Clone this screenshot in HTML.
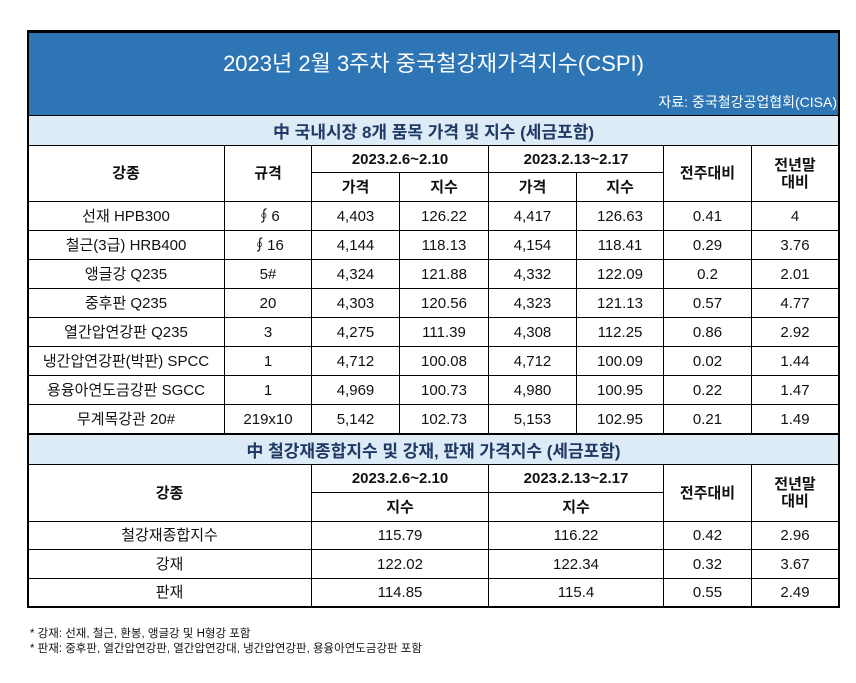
<!DOCTYPE html>
<html><head><meta charset="utf-8"><style>
body{margin:0;width:856px;height:683px;background:#fff;position:relative;overflow:hidden;font-family:"Liberation Sans","Noto Sans CJK KR","NanumGothic",sans-serif;color:#111}
.c{position:absolute;box-sizing:border-box;border-right:1px solid #000;border-bottom:1px solid #000;display:flex;align-items:center;justify-content:center;font-size:15px;text-align:center;line-height:17px}
.h{font-weight:bold}
.band{position:absolute;left:28px;width:811px;background:#DDEBF7;border-bottom:1px solid #000;box-sizing:border-box;display:flex;align-items:center;justify-content:center;font-size:17px;font-weight:bold;color:#1F3864}
.fn{position:absolute;left:30px;font-size:11.5px}
</style></head><body>
<div style="position:absolute;left:28px;top:31px;width:811px;height:85px;background:#2E75B6;border-bottom:1px solid #000;box-sizing:border-box"></div>
<div style="position:absolute;left:28px;top:46px;width:811px;text-align:center;color:#fff;font-size:22px">2023년 2월 3주차 중국철강재가격지수(CSPI)</div>
<div style="position:absolute;right:19px;top:92px;color:#fff;font-size:14px">자료: 중국철강공업협회(CISA)</div>
<div style="position:absolute;left:27px;top:30px;width:813px;height:578px;border:2px solid #000;border-top:3px solid #000;box-sizing:border-box;pointer-events:none;z-index:5"></div>
<div class="band" style="top:116px;height:30px">中 국내시장 8개 품목 가격 및 지수 (세금포함)</div>
<div class="band" style="top:434px;height:31px;border-top:1px solid #000">中 철강재종합지수 및 강재, 판재 가격지수 (세금포함)</div>
<div class="fn" style="top:625px">* 강재: 선재, 철근, 환봉, 앵글강 및 H형강 포함</div>
<div class="fn" style="top:640px">* 판재: 중후판, 열간압연강판, 열간압연강대, 냉간압연강판, 용융아연도금강판 포함</div>
<script>
const cols=[28,225,312,400,489,577,664,752,839];
const products=["선재 HPB300","철근(3급) HRB400","앵글강 Q235","중후판 Q235","열간압연강판 Q235","냉간압연강판(박판) SPCC","용융아연도금강판 SGCC","무계목강관 20#"];
const specs=["∮6","∮16","5#","20","3","1","1","219x10"];
const price1=["4,403","4,144","4,324","4,303","4,275","4,712","4,969","5,142"];
const idx1=["126.22","118.13","121.88","120.56","111.39","100.08","100.73","102.73"];
const price2=["4,417","4,154","4,332","4,323","4,308","4,712","4,980","5,153"];
const idx2=["126.63","118.41","122.09","121.13","112.25","100.09","100.95","102.95"];
const wow=["0.41","0.29","0.2","0.57","0.86","0.02","0.22","0.21"];
const ytd=["4","3.76","2.01","4.77","2.92","1.44","1.47","1.49"];
const cats2=["철강재종합지수","강재","판재"];
const s2i1=["115.79","122.02","114.85"];
const s2i2=["116.22","122.34","115.4"];
const s2w=["0.42","0.32","0.55"];
const s2y=["2.96","3.67","2.49"];
function cell(x1,x2,y1,y2,txt,name,h){
 const d=document.createElement('div');d.className='c'+(h?' h':'');
 d.style.left=x1+'px';d.style.top=y1+'px';d.style.width=(x2-x1)+'px';d.style.height=(y2-y1)+'px';
 d.innerHTML=txt;
 
 
 document.body.appendChild(d);
}
const C=cols;
cell(C[0],C[1],146,202,'강종','header-steel-type',1);
cell(C[1],C[2],146,202,'규격','header-spec',1);
cell(C[2],C[4],146,173,'2023.2.6~2.10','header-week1',1);
cell(C[4],C[6],146,173,'2023.2.13~2.17','header-week2',1);
cell(C[6],C[7],146,202,'전주대비','header-wow',1);
cell(C[7],C[8],146,202,'전년말<br>대비','header-ytd',1);
cell(C[2],C[3],173,202,'가격','header-price1',1);
cell(C[3],C[4],173,202,'지수','header-index1',1);
cell(C[4],C[5],173,202,'가격','header-price2',1);
cell(C[5],C[6],173,202,'지수','header-index2',1);
const rh=29;
products.forEach((p,i)=>{
 const y=202+i*rh,y2=i==7?434:y+rh;
 const vals=[p,specs[i],price1[i],idx1[i],price2[i],idx2[i],wow[i],ytd[i]];
 vals.forEach((v,j)=>cell(C[j],C[j+1],y,y2,v,'row'+(i+1)+'-col'+(j+1)));
});
cell(C[0],C[2],465,522,'강종','s2-header-steel-type',1);
cell(C[2],C[4],465,493,'2023.2.6~2.10','s2-header-week1',1);
cell(C[4],C[6],465,493,'2023.2.13~2.17','s2-header-week2',1);
cell(C[6],C[7],465,522,'전주대비','s2-header-wow',1);
cell(C[7],C[8],465,522,'전년말<br>대비','s2-header-ytd',1);
cell(C[2],C[4],493,522,'지수','s2-header-index1',1);
cell(C[4],C[6],493,522,'지수','s2-header-index2',1);
const ys=[522,550,579,607];
cats2.forEach((c,i)=>{
 cell(C[0],C[2],ys[i],ys[i+1],c,'s2-row'+(i+1)+'-name');
 cell(C[2],C[4],ys[i],ys[i+1],s2i1[i],'s2-row'+(i+1)+'-index1');
 cell(C[4],C[6],ys[i],ys[i+1],s2i2[i],'s2-row'+(i+1)+'-index2');
 cell(C[6],C[7],ys[i],ys[i+1],s2w[i],'s2-row'+(i+1)+'-wow');
 cell(C[7],C[8],ys[i],ys[i+1],s2y[i],'s2-row'+(i+1)+'-ytd');
});
</script>
</body></html>
